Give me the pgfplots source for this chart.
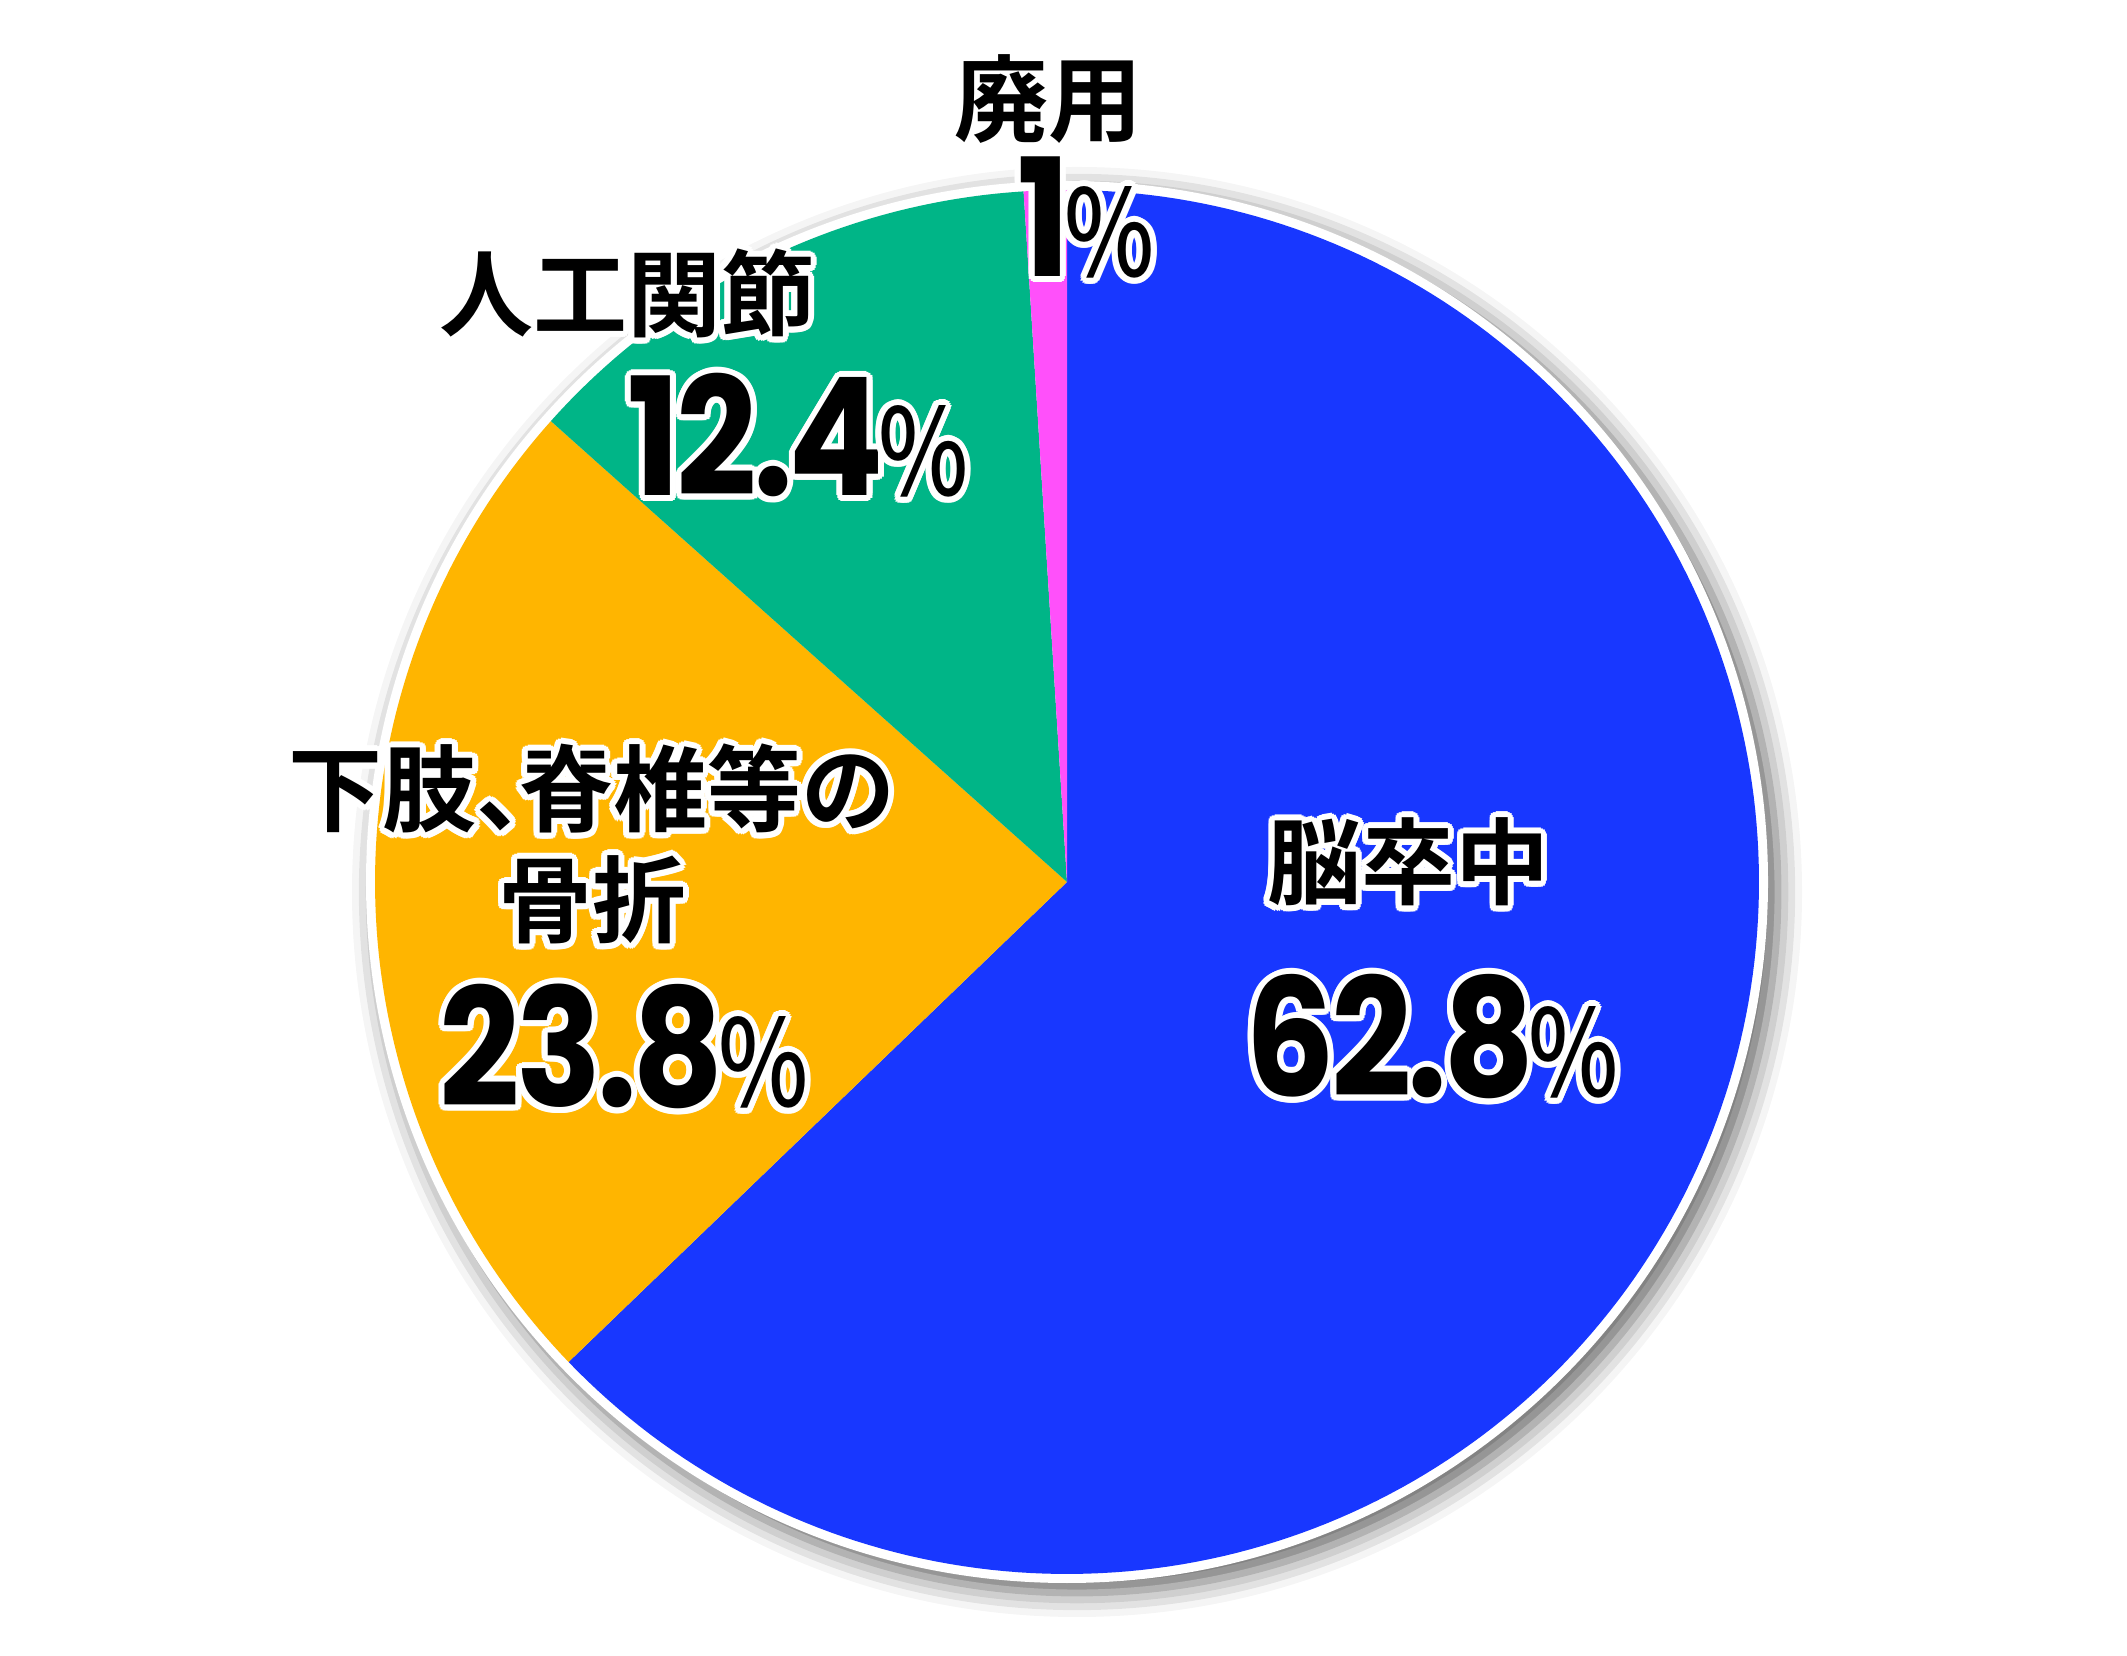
\documentclass[border=0pt]{standalone}
\usepackage{pgfplots}
\pgfplotsset{compat=1.18}
\usepackage{fontspec}
\usepackage{contour}
\usetikzlibrary{shadows.blur}
\newfontfamily\jpb{Noto Sans CJK JP}[UprightFont=* Bold]
\newfontfamily\pctf{Noto Sans CJK JP}[UprightFont=* Medium]
\newfontfamily\numf{Poppins}[UprightFont=* Bold, LetterSpace=-3]
\contourlength{3bp}
\contournumber{16}
\definecolor{cblue}{RGB}{24,55,255}
\definecolor{corange}{RGB}{255,181,0}
\definecolor{cgreen}{RGB}{0,181,135}
\definecolor{cpink}{RGB}{255,80,250}
% data (percent)
\def\vA{62.8}% 脳卒中
\def\vB{23.8}% 下肢、脊椎等の骨折
\def\vC{12.4}% 人工関節
\def\vD{1.0}%  廃用
\pgfmathsetmacro{\aZ}{90}
\pgfmathsetmacro{\aA}{\aZ-3.6*\vA}
\pgfmathsetmacro{\aB}{\aA-3.6*\vB}
\pgfmathsetmacro{\aC}{\aB-3.6*\vC}
\pgfmathsetmacro{\aD}{\aC-3.6*\vD}
\newcommand{\jtxt}[1]{{\jpb\fontsize{47bp}{56bp}\selectfont\contour{white}{#1}}}
\newcommand{\ntxt}[1]{{\numf\fontsize{82bp}{90bp}\selectfont\contour{white}{\scalebox{0.86}[1]{#1}}\kern-3bp\pctf\fontsize{60bp}{64bp}\selectfont\contour{white}{\scalebox{0.8}[1]{\%}}}}
\begin{document}
\begin{tikzpicture}
\begin{axis}[scale only axis, width=1063.5bp, height=828bp,
  xmin=0, xmax=2127, ymin=0, ymax=1656, hide axis, clip=false]
\path (0,0) -- (2127,1656);
\fill[white, blur shadow={shadow xshift=5bp, shadow yshift=-5bp, shadow blur radius=12bp, shadow opacity=60}] (1067,774) circle[radius=350.5bp];
\addplot[draw=none, fill=cblue, domain=\aA:\aZ, samples=200, variable=\t]
  ({1067+692*cos(\t)}, {774+692*sin(\t)}) -- (1067,774) -- cycle;
\addplot[draw=none, fill=corange, domain=\aB:\aA, samples=100, variable=\t]
  ({1067+692*cos(\t)}, {774+692*sin(\t)}) -- (1067,774) -- cycle;
\addplot[draw=none, fill=cgreen, domain=\aC:\aB, samples=80, variable=\t]
  ({1067+692*cos(\t)}, {774+692*sin(\t)}) -- (1067,774) -- cycle;
\addplot[draw=none, fill=cpink, domain=\aD:\aC, samples=10, variable=\t]
  ({1067+692*cos(\t)}, {774+692*sin(\t)}) -- (1067,774) -- cycle;
\node[anchor=base, inner sep=0pt] at (1048,1521) {\jtxt{廃用}};
\node[anchor=base, inner sep=0pt] at (1086,1379) {\ntxt{1}};
\node[anchor=base, inner sep=0pt] at (627,1326) {\jtxt{人工関節}};
\node[anchor=base, inner sep=0pt] at (798,1160) {\ntxt{12.4}};
\node[anchor=base, inner sep=0pt] at (592,831) {\jtxt{下肢、\kern-0.55em脊椎等の}};
\node[anchor=base, inner sep=0pt] at (592,720) {\jtxt{骨折}};
\node[anchor=base, inner sep=0pt] at (624,549) {\ntxt{23.8}};
\node[anchor=base, inner sep=0pt] at (1408,758) {\jtxt{脳卒中}};
\node[anchor=base, inner sep=0pt] at (1432,559) {\ntxt{62.8}};
\end{axis}
\end{tikzpicture}
\end{document}
